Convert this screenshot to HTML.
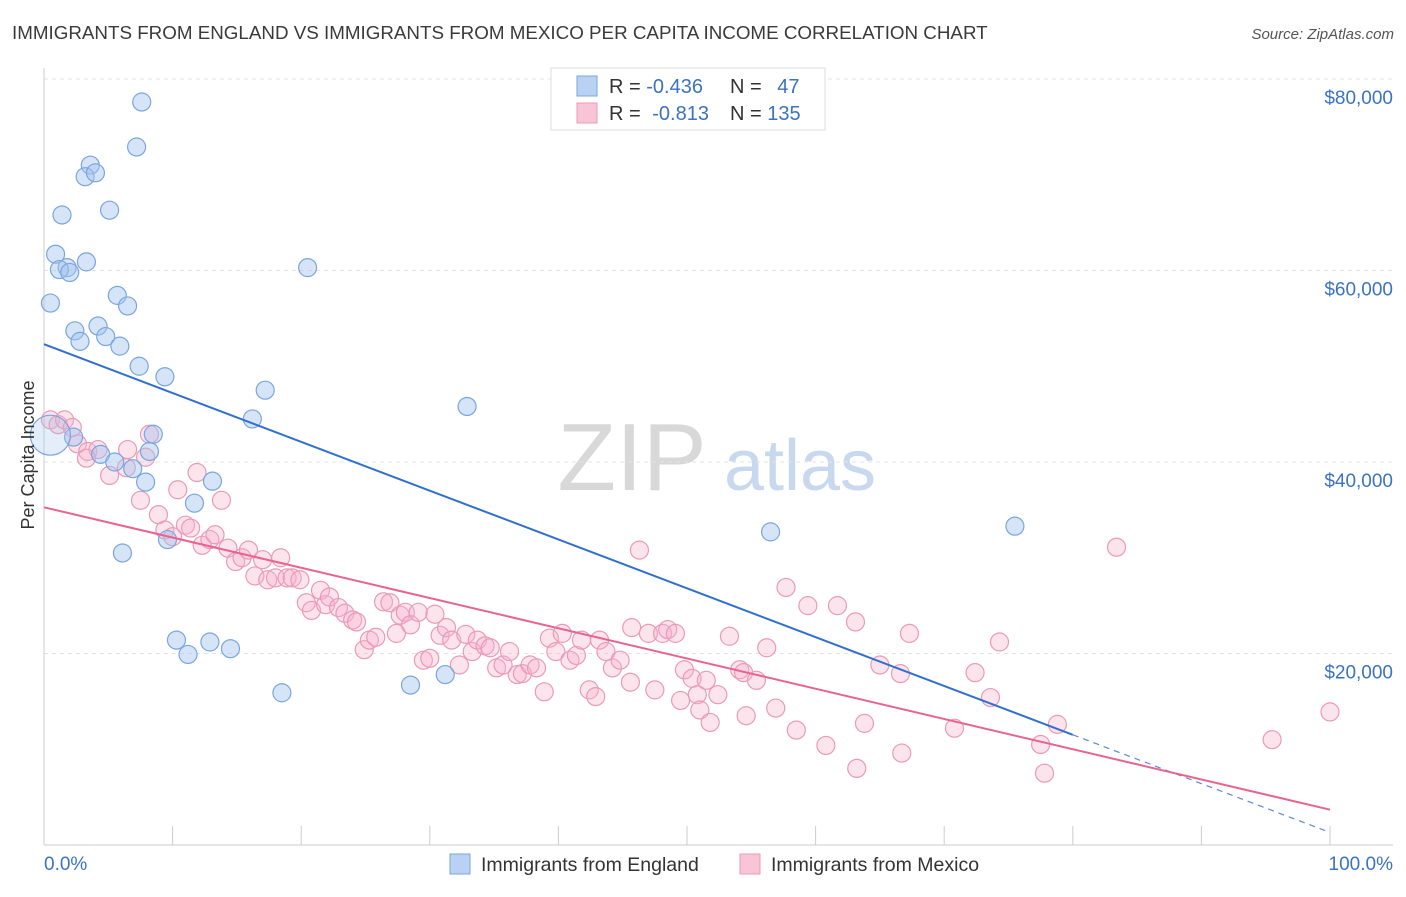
<!DOCTYPE html>
<html><head><meta charset="utf-8">
<style>
body{margin:0;background:#fff;font-family:"Liberation Sans",sans-serif;}
svg text{font-family:"Liberation Sans",sans-serif;}
</style></head>
<body>
<svg id="chart" width="1406" height="892" viewBox="0 0 1406 892" xmlns="http://www.w3.org/2000/svg">
<text x="12" y="39" font-size="18.8" fill="#3a3a3a">IMMIGRANTS FROM ENGLAND VS IMMIGRANTS FROM MEXICO PER CAPITA INCOME CORRELATION CHART</text>
<text x="1394" y="39" font-size="15" fill="#555" font-style="italic" text-anchor="end">Source: ZipAtlas.com</text>
<g>
<text x="632" y="490" font-size="96" font-family="Liberation Serif" fill="#d8d8d8" text-anchor="middle">ZIP</text>
<text x="800" y="490" font-size="72" fill="#c8d8ee" text-anchor="middle">atlas</text>
</g>
<g id="grid"></g>
<g id="axes"></g>
<g id="marks"></g>
<text transform="translate(34,455) rotate(-90)" font-size="18" fill="#333" text-anchor="middle">Per Capita Income</text>
<g>
<rect x="551" y="68" width="274" height="62" fill="#fff" stroke="#ddd"/>
<rect x="577" y="76" width="20" height="20" fill="#b9d2f3" stroke="#7aa6df"/>
<rect x="577" y="103" width="20" height="20" fill="#f9c5d6" stroke="#eb9ab6"/>
<text x="609" y="93" font-size="20" fill="#333">R = <tspan fill="#3b73c4">-0.436</tspan></text>
<text x="730" y="93" font-size="20" fill="#333">N = <tspan fill="#3b73c4" dx="10">47</tspan></text>
<text x="609" y="120" font-size="20" fill="#333">R = <tspan fill="#3b73c4" dx="6">-0.813</tspan></text>
<text x="730" y="120" font-size="20" fill="#333">N = <tspan fill="#3b73c4">135</tspan></text>
</g>
<g>
<rect x="450" y="854" width="20" height="20" fill="#b9d2f3" stroke="#7aa6df"/>
<text x="481" y="871" font-size="19.5" fill="#333">Immigrants from England</text>
</g>
<g>
<rect x="740" y="854" width="20" height="20" fill="#f9c5d6" stroke="#eb9ab6"/>
<text x="771" y="871" font-size="19.5" fill="#333">Immigrants from Mexico</text>
</g>
</svg>
<script>
const yTicks=[20000,40000,60000,80000];
const yTickLabels=["$20,000","$40,000","$60,000","$80,000"];
const xTickPcts=[0,10,20,30,40,50,60,70,80,90,100];
const englandX=[7.6,7.2,3.6,3.2,4.0,5.1,1.4,0.9,3.3,1.8,1.2,2.0,20.5,0.5,5.7,6.5,2.4,4.2,4.8,2.8,5.9,7.4,9.4,17.2,16.2,32.9,8.5,2.3,8.2,4.4,5.5,6.9,7.9,13.1,11.7,6.1,9.6,56.5,75.5,10.3,11.2,12.9,14.5,18.5,28.5,31.2,0.5];
const englandY=[77.6,72.9,71.0,69.8,70.2,66.3,65.8,61.7,60.9,60.3,60.1,59.8,60.3,56.6,57.4,56.3,53.7,54.2,53.1,52.6,52.1,50.0,48.9,47.5,44.5,45.8,42.9,42.6,41.1,40.8,40.0,39.3,37.9,38.0,35.7,30.5,31.9,32.7,33.3,21.4,19.9,21.2,20.5,15.9,16.7,17.8,42.8];
const mexicoX=[0.5,1.1,1.6,2.2,2.6,3.4,4.2,3.3,5.1,6.5,6.4,7.9,8.2,7.5,8.9,9.4,10.0,10.4,11.0,11.4,11.9,12.3,12.9,13.3,13.8,14.3,14.9,15.4,15.9,16.4,17.0,17.4,18.0,18.4,18.9,19.3,19.9,20.4,20.8,21.5,21.9,22.2,22.9,23.4,24.0,24.3,24.9,25.3,25.8,26.4,26.9,27.4,27.7,28.1,28.5,29.1,29.5,30.0,30.4,30.8,31.3,31.7,32.3,32.8,33.3,33.7,34.3,34.7,35.2,35.7,36.2,36.8,37.2,37.8,38.3,38.9,39.3,39.8,40.3,40.9,41.4,41.8,42.4,42.9,43.2,43.7,44.2,44.8,45.6,45.7,46.3,47.0,47.5,48.1,48.5,49.1,49.5,49.8,50.4,50.8,51.0,51.5,51.8,52.4,53.3,54.1,54.4,54.6,55.4,56.2,56.9,57.7,58.5,59.4,60.8,61.7,63.1,63.2,63.8,65.0,66.6,66.7,67.3,70.8,72.4,73.6,74.3,77.5,77.8,78.8,83.4,95.5,100];
const mexicoY=[44.4,43.9,44.4,43.6,41.9,41.1,41.3,40.4,38.6,41.3,39.4,40.5,42.9,36.0,34.5,32.9,32.2,37.1,33.4,33.1,38.9,31.3,31.9,32.4,36.0,31.0,29.6,30.0,30.8,28.1,29.8,27.7,27.9,30.0,27.9,27.9,27.7,25.3,24.5,26.6,25.1,25.9,24.8,24.2,23.5,23.3,20.4,21.4,21.7,25.4,25.3,22.1,24.0,24.3,23.0,24.3,19.3,19.5,24.1,21.9,22.7,21.4,18.8,22.0,20.2,21.4,20.8,20.6,18.5,18.8,20.2,17.8,17.9,18.8,18.5,16.0,21.6,20.2,22.1,19.3,19.8,21.4,16.2,15.5,21.4,20.2,18.5,19.3,17.0,22.7,30.8,22.1,16.2,22.1,22.5,22.1,15.1,18.3,17.4,15.7,14.1,17.2,12.8,15.7,21.8,18.3,18.0,13.5,17.2,20.6,14.3,26.9,12.0,25.0,10.4,25.0,23.3,8.0,12.7,18.8,17.9,9.6,22.1,12.2,18.0,15.4,21.2,10.5,7.5,12.6,31.1,11.0,13.9];
const englandLine=[0,80,100];
const mexicoLine=[0,100];

const X0=44,X1=1330,Y0=845,YPER=191.5/20000;
const sx=p=>X0+(X1-X0)*p/100;
const sy=v=>Y0-v*YPER;
const NS="http://www.w3.org/2000/svg";
function mk(tag,attrs,parent){const e=document.createElementNS(NS,tag);for(const k in attrs)e.setAttribute(k,attrs[k]);parent.appendChild(e);return e;}
const grid=document.getElementById('grid'),axes=document.getElementById('axes'),marks=document.getElementById('marks');
yTicks.forEach((t,i)=>{
  const l=mk('line',{x1:X0,x2:1393,y1:sy(t),y2:sy(t),stroke:'#e3e3e3','stroke-dasharray':'4,4'},grid);
  
  
  const tx=mk('text',{x:1393,y:sy(t)+25,'font-size':19,fill:'#3b73c4','text-anchor':'end'},axes);
  tx.textContent=yTickLabels[i];
  
  
});
const ya=mk('line',{x1:X0,x2:X0,y1:68,y2:Y0,stroke:'#ccc'},axes);


const xa=mk('line',{x1:X0,x2:1393,y1:Y0,y2:Y0,stroke:'#ccc'},axes);


xTickPcts.forEach(p=>{
  const t=mk('line',{x1:sx(p),x2:sx(p),y1:Y0,y2:Y0-19,stroke:'#ccc'},axes);
  
  
});
const xl0=mk('text',{x:X0,y:870,'font-size':19,fill:'#3b73c4'},axes);
xl0.textContent='0.0%';


const xl1=mk('text',{x:1393,y:870,'font-size':19,fill:'#3b73c4','text-anchor':'end'},axes);
xl1.textContent='100.0%';



function reg(xs,ys){const n=xs.length;let mx=0,my=0;for(let i=0;i<n;i++){mx+=xs[i];my+=ys[i];}mx/=n;my/=n;let sxy=0,sxx=0;for(let i=0;i<n;i++){sxy+=(xs[i]-mx)*(ys[i]-my);sxx+=(xs[i]-mx)**2;}const b=sxy/sxx;return [my-b*mx,b];}

mexicoX.forEach((x,i)=>{
  const c=mk('circle',{cx:sx(x),cy:sy(mexicoY[i]*1000),r:9,fill:'rgba(246,178,204,0.35)',stroke:'#eb9ab6','stroke-width':1.2},marks);
  
  
});
englandX.forEach((x,i)=>{
  const big=i===englandX.length-1;
  const c=mk('circle',{cx:sx(x),cy:sy(englandY[i]*1000),r:big?20:9,fill:big?'rgba(165,195,238,0.3)':'rgba(165,195,238,0.45)',stroke:'#7aa6df','stroke-width':1.2},marks);
  
  
});
const [ea,eb]=reg(englandX,englandY);
const [ma,mb]=reg(mexicoX,mexicoY);
const el=mk('line',{x1:sx(englandLine[0]),y1:sy((ea+eb*englandLine[0])*1000),x2:sx(englandLine[1]),y2:sy((ea+eb*englandLine[1])*1000),stroke:'#2f6fd0','stroke-width':2},marks);


const ed=mk('line',{x1:sx(englandLine[1]),y1:sy((ea+eb*englandLine[1])*1000),x2:sx(englandLine[2]),y2:sy((ea+eb*englandLine[2])*1000),stroke:'#5a8ad6','stroke-width':1.2,'stroke-dasharray':'6,5'},marks);


const ml=mk('line',{x1:sx(mexicoLine[0]),y1:sy((ma+mb*mexicoLine[0])*1000),x2:sx(mexicoLine[1]),y2:sy((ma+mb*mexicoLine[1])*1000),stroke:'#e8648e','stroke-width':2},marks);


</script>
</body></html>
